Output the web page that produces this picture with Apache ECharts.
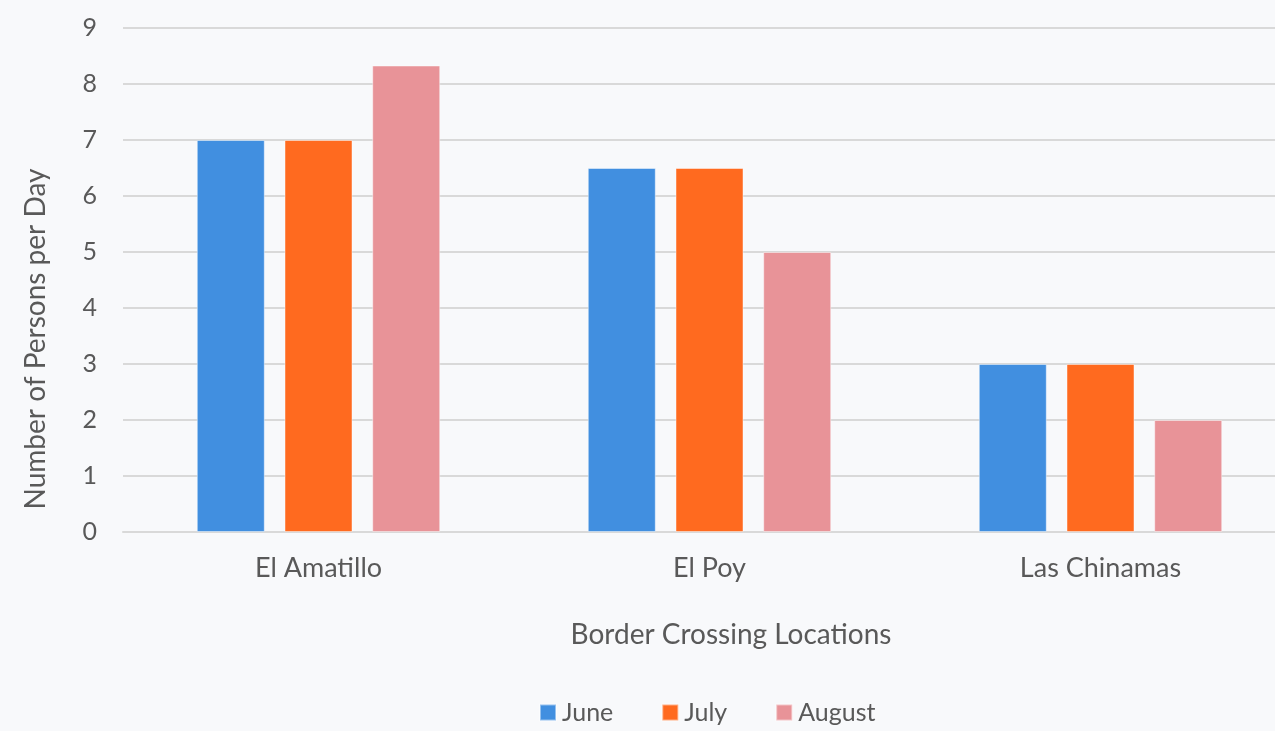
<!DOCTYPE html>
<html><head><meta charset="utf-8">
<script src="https://cdn.jsdelivr.net/npm/echarts@6/dist/echarts.min.js"></script>
<style>html,body{margin:0;padding:0;background:#f8f9fb}#c{width:1275px;height:731px}</style>
</head><body><div id="c"></div>
<script>
const categories = ['El Amatillo', 'El Poy', 'Las Chinamas'];
const seriesNames = ['June', 'July', 'August'];
const june = [7, 6.5, 3];
const july = [7, 6.5, 3];
const august = [8.33, 5, 2];
const yTicks = [0, 1, 2, 3, 4, 5, 6, 7, 8, 9];
const colors = ['#418fe0', '#ff6a1f', '#e89398'];
const FONT = 'Lato, "Open Sans", sans-serif';
const chart = echarts.init(document.getElementById('c'), null, {renderer: 'canvas'});
const data = [june, july, august];
chart.setOption({
  backgroundColor: '#f8f9fb',
  animation: false,
  textStyle: {fontFamily: FONT},
  grid: {left: 123, top: 28, height: 504, width: 1173, containLabel: false, outerBoundsMode: 'none'},
  legend: {
    data: seriesNames, top: 695, left: 534, icon: 'rect', itemWidth: 16, itemHeight: 16, itemGap: 48,
    textStyle: {fontFamily: FONT, fontSize: 25, color: '#595959', padding: [0, 0, 0, 1]}
  },
  xAxis: {
    type: 'category', data: categories,
    axisLine: {lineStyle: {color: '#d9d9d9', width: 2}},
    axisTick: {show: false},
    axisLabel: {fontFamily: FONT, fontSize: 27, color: '#595959', margin: 23}
  },
  yAxis: {
    type: 'value', min: yTicks[0], max: yTicks[yTicks.length - 1], interval: 1,
    axisLine: {show: false}, axisTick: {show: false},
    splitLine: {lineStyle: {color: '#d9d9d9', width: 2}},
    axisLabel: {fontFamily: FONT, fontSize: 25, color: '#595959', margin: 26}
  },
  graphic: [
    {type: 'text', x: 731, y: 635, style: {text: 'Border Crossing Locations', fontFamily: FONT, fontSize: 28, fill: '#595959', textAlign: 'center', textVerticalAlign: 'middle'}},
    {type: 'text', x: 36, y: 339, rotation: Math.PI / 2, style: {text: 'Number of Persons per Day', fontFamily: FONT, fontSize: 28, fill: '#595959', textAlign: 'center', textVerticalAlign: 'middle'}}
  ],
  series: seriesNames.map((n, i) => ({
    name: n, type: 'bar', data: data[i], barWidth: 68, barGap: '29%',
    itemStyle: {color: colors[i], borderColor: 'rgba(255,255,255,0.45)', borderWidth: 1}
  }))
});
</script></body></html>
